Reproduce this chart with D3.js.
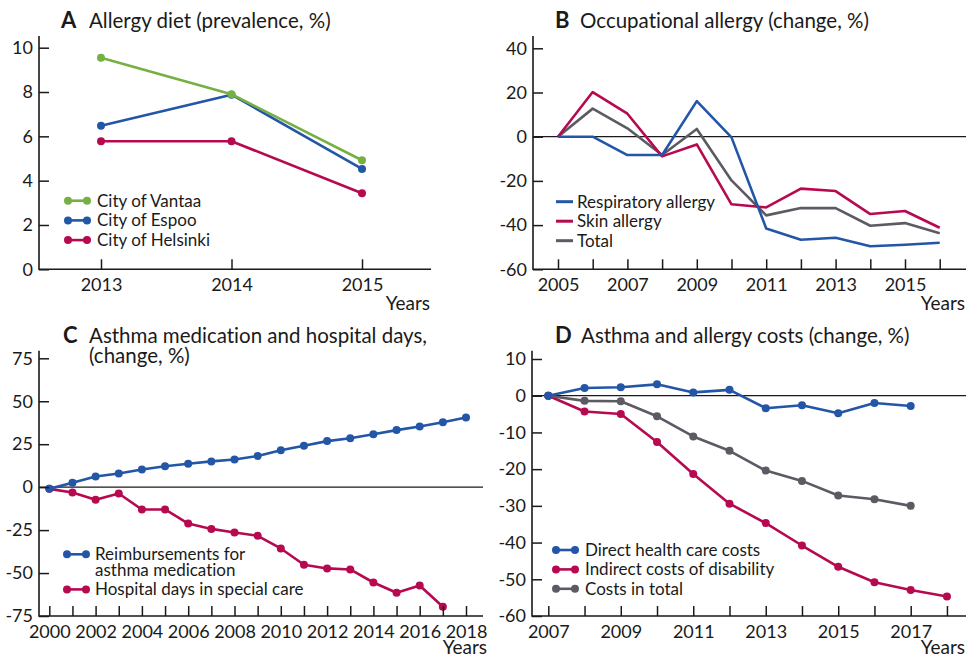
<!DOCTYPE html>
<html lang="en">
<head>
<meta charset="UTF-8">
<title>Asthma and allergy indicators</title>
<script src="https://d3js.org/d3.v7.min.js"></script>
<style>
    body { margin: 0; background: #fff; font-family: Lato, "Open Sans", sans-serif; }
    svg text { font-variant-ligatures: none; }
    .tick text { font-size: 18px; fill: #1a1a1a; font-family: Lato, sans-serif; }
    .tick line { stroke: #1a1a1a; stroke-width: 1.5px; }
    .frame { fill: none; stroke: #1a1a1a; stroke-width: 1.6px; }
    .zero { stroke: #1a1a1a; stroke-width: 1.3px; }
    .legend text { font-size: 17px; fill: #1a1a1a; }
    .title { font-size: 20.5px; fill: #1a1a1a; }
    .letter { font-size: 22px; font-weight: bold; fill: #1a1a1a; }
    .years { font-size: 19px; fill: #1a1a1a; text-anchor: end; }
</style>
</head>
<body>
<script>
// ---- colours
const green = "#76b043", blue = "#2356a6", red = "#b7094f", grey = "#5c5a63";

// ---- A: allergy diet (prevalence, %)
const yearsA = [2013, 2014, 2015];
const vantaa = [9.55, 7.9, 4.92];
const espoo = [6.48, 7.88, 4.53];
const helsinki = [5.78, 5.78, 3.43];

// ---- B: occupational allergy (change, %)
const yearsB = [2005, 2006, 2007, 2008, 2009, 2010, 2011, 2012, 2013, 2014, 2015, 2016];
const respiratory = [0, 0, -8.3, -8.3, 16.1, -0.3, -41.5, -46.6, -45.7, -49.6, -48.9, -48];
const skin = [0, 20.2, 10.4, -8.9, -3.5, -30.6, -32, -23.5, -24.6, -35, -33.6, -41.2];
const totalB = [0, 12.7, 3.8, -8.3, 3.5, -19.8, -35.6, -32.3, -32.3, -40.3, -39.1, -43.7];
const labelsB = [2005, 2007, 2009, 2011, 2013, 2015];

// ---- C: asthma medication and hospital days (change, %)
const yearsC = [2000, 2001, 2002, 2003, 2004, 2005, 2006, 2007, 2008, 2009,
                2010, 2011, 2012, 2013, 2014, 2015, 2016, 2017, 2018];
const reimbursements = [-1, 2.5, 6.2, 7.9, 10.3, 12.2, 13.6, 15, 16.1, 18.1,
                        21.5, 24.1, 26.8, 28.5, 30.8, 33.2, 35.3, 37.8, 40.6];
const hospitalDays = [-1, -3.1, -7.4, -3.7, -13, -13, -21.2, -24.3, -26.4, -28.3,
                      -35.7, -45.2, -47.3, -47.9, -55.5, -61.5, -57.2, -69.6];
const labelsC = [2000, 2002, 2004, 2006, 2008, 2010, 2012, 2014, 2016, 2018];

// ---- D: asthma and allergy costs (change, %)
const yearsD = [2007, 2008, 2009, 2010, 2011, 2012, 2013, 2014, 2015, 2016, 2017, 2018];
const directCosts = [0, 2.1, 2.3, 3.1, 0.9, 1.6, -3.4, -2.6, -4.8, -2.0, -2.8];
const indirectCosts = [0, -4.3, -5.0, -12.6, -21.3, -29.4, -34.7, -40.8, -46.6, -50.8, -52.9, -54.7];
const totalCosts = [0, -1.4, -1.5, -5.6, -11.1, -15.0, -20.4, -23.2, -27.2, -28.2, -30.0];
const labelsD = [2007, 2009, 2011, 2013, 2015, 2017];

const svg = d3.select("body").append("svg").attr("width", 968).attr("height", 660);

function drawPanel(p) {
    const g = svg.append("g");
    const x = d3.scaleLinear().domain(p.xDom).range(p.xRange);
    const y = d3.scaleLinear().domain(p.yDom).range(p.yRange);
    const b = p.box;

    if (p.zero) {
        g.append("line").attr("class", "zero")
            .attr("x1", b.left).attr("x2", b.right)
            .attr("y1", y(0)).attr("y2", y(0));
    }

    const line = d3.line().x(d => x(d[0])).y(d => y(d[1]));
    p.series.forEach(s => {
        const pts = s.values.map((v, i) => [p.years[i], v]);
        g.append("path").datum(pts)
            .attr("d", line)
            .attr("fill", "none")
            .attr("stroke", s.color)
            .attr("stroke-width", 2.6)
            .attr("stroke-linejoin", "round");
        if (p.dots) {
            g.selectAll(null).data(pts).enter().append("circle")
                .attr("cx", d => x(d[0])).attr("cy", d => y(d[1]))
                .attr("r", 4).attr("fill", s.color);
        }
    });

    // axes, ticks pointing inwards, plain hyphen for negatives
    g.append("g").attr("transform", `translate(0,${b.bottom})`)
        .call(d3.axisBottom(x).tickValues(p.years).tickSize(-10).tickPadding(9)
            .tickFormat(d => p.xLabels.includes(d) ? d : ""))
        .call(a => a.select(".domain").remove());
    g.append("g").attr("transform", `translate(${b.left},0)`)
        .call(d3.axisLeft(y).tickValues(p.yTicks).tickSize(-10).tickPadding(6)
            .tickFormat(d => String(d)))
        .call(a => a.select(".domain").remove());
    g.selectAll(".tick text").attr("font-family", null).attr("font-size", null);

    g.append("path").attr("class", "frame")
        .attr("d", `M${b.left},${b.top}V${b.bottom}H${b.right}`);

    g.append("text").attr("class", "years")
        .attr("x", p.yearsPos[0]).attr("y", p.yearsPos[1]).text("Years");

    // title
    g.append("text").attr("class", "letter")
        .attr("x", p.titlePos[0]).attr("y", p.titlePos[1]).text(p.letter);
    p.title.forEach((t, i) => {
        g.append("text").attr("class", "title")
            .attr("x", p.titlePos[2]).attr("y", p.titlePos[1] + i * 20).text(t);
    });

    // legend
    const lg = g.append("g").attr("class", "legend");
    let row = 0;
    p.series.slice().sort((a, c) => a.legendOrder - c.legendOrder).forEach(s => {
        const ly = p.legend.y + row * p.legend.step;
        lg.append("line")
            .attr("x1", p.legend.x0).attr("x2", p.legend.x1)
            .attr("y1", ly).attr("y2", ly)
            .attr("stroke", s.color).attr("stroke-width", p.dots ? 2.6 : 3);
        if (p.dots) {
            [p.legend.x0, p.legend.x1].forEach(cx => {
                lg.append("circle").attr("cx", cx).attr("cy", ly).attr("r", 4).attr("fill", s.color);
            });
        }
        s.name.forEach((n, k) => {
            lg.append("text").attr("x", p.legend.tx).attr("y", ly + k * 16)
                .attr("dy", "0.35em").text(n);
        });
        row += s.name.length > 1 ? 1.8 : 1;
    });
}

drawPanel({
    letter: "A", title: ["Allergy diet (prevalence, %)"], titlePos: [61, 28, 89],
    xDom: [2013, 2015], xRange: [101, 362], yDom: [0, 10], yRange: [269.3, 47.7],
    box: { left: 39, right: 431, top: 36, bottom: 269.3 },
    years: yearsA, xLabels: yearsA, yTicks: [0, 2, 4, 6, 8, 10],
    yearsPos: [430, 310], dots: true, zero: false,
    legend: { x0: 68, x1: 87, tx: 97, y: 200.7, step: 19.7 },
    series: [
        { name: ["City of Helsinki"], values: helsinki, color: red, legendOrder: 2 },
        { name: ["City of Espoo"], values: espoo, color: blue, legendOrder: 1 },
        { name: ["City of Vantaa"], values: vantaa, color: green, legendOrder: 0 }
    ]
});

drawPanel({
    letter: "B", title: ["Occupational allergy (change, %)"], titlePos: [555, 28, 580],
    xDom: [2005, 2016], xRange: [558, 939.7], yDom: [40, -60], yRange: [48.3, 269.3],
    box: { left: 533, right: 966, top: 36, bottom: 269.3 },
    years: yearsB, xLabels: labelsB, yTicks: [-60, -40, -20, 0, 20, 40],
    yearsPos: [965, 310], dots: false, zero: true,
    legend: { x0: 556, x1: 573, tx: 577, y: 201.7, step: 19.5 },
    series: [
        { name: ["Total"], values: totalB, color: grey, legendOrder: 2 },
        { name: ["Skin allergy"], values: skin, color: red, legendOrder: 1 },
        { name: ["Respiratory allergy"], values: respiratory, color: blue, legendOrder: 0 }
    ]
});

drawPanel({
    letter: "C", title: ["Asthma medication and hospital days,", "(change, %)"], titlePos: [63, 343, 89],
    xDom: [2000, 2018], xRange: [49.3, 466], yDom: [75, -75], yRange: [358.3, 616],
    box: { left: 39, right: 483, top: 350.7, bottom: 616 },
    years: yearsC, xLabels: labelsC, yTicks: [-75, -50, -25, 0, 25, 50, 75],
    yearsPos: [487, 654], dots: true, zero: true,
    legend: { x0: 67, x1: 86, tx: 95, y: 554.3, step: 19.5 },
    series: [
        { name: ["Hospital days in special care"], values: hospitalDays, color: red, legendOrder: 1 },
        { name: ["Reimbursements for", "asthma medication"], values: reimbursements, color: blue, legendOrder: 0 }
    ]
});

drawPanel({
    letter: "D", title: ["Asthma and allergy costs (change, %)"], titlePos: [555, 343, 581],
    xDom: [2007, 2017], xRange: [548.3, 910.7], yDom: [10, -60], yRange: [359, 616],
    box: { left: 532, right: 966, top: 350.7, bottom: 616 },
    years: yearsD, xLabels: labelsD, yTicks: [-60, -50, -40, -30, -20, -10, 0, 10],
    yearsPos: [965, 654], dots: true, zero: true,
    legend: { x0: 556, x1: 575, tx: 585, y: 550, step: 19.4 },
    series: [
        { name: ["Indirect costs of disability"], values: indirectCosts, color: red, legendOrder: 1 },
        { name: ["Costs in total"], values: totalCosts, color: grey, legendOrder: 2 },
        { name: ["Direct health care costs"], values: directCosts, color: blue, legendOrder: 0 }
    ]
});
</script>
</body>
</html>
